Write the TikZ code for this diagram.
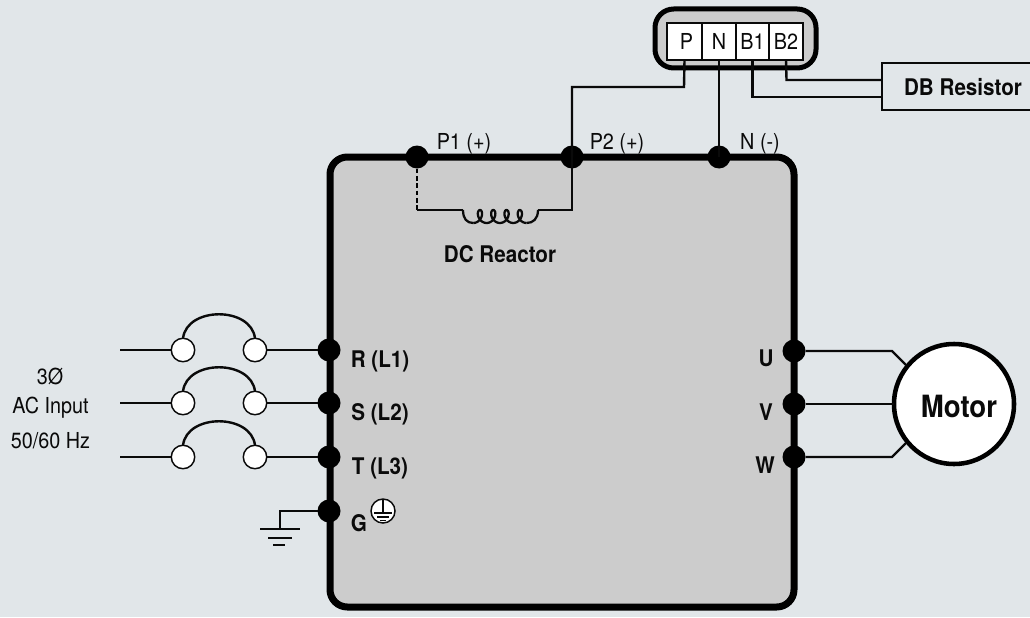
\documentclass[tikz,border=0pt]{standalone}
\usepackage{fontspec}
\setmainfont{TeX Gyre Heros}[FakeStretch=0.9]
\definecolor{bgc}{RGB}{225,230,233}
\definecolor{boxc}{RGB}{204,204,204}
\definecolor{inkc}{RGB}{10,10,10}
\newcommand{\fsz}[1]{\fontsize{#1}{#1}\selectfont}
\tikzset{
  wire/.style={draw=inkc,line width=1.8pt,line join=miter},
  dotn/.style={circle,fill=black,draw=none,inner sep=0pt,outer sep=0pt,minimum size=17.25pt},
  switchn/.style={circle,fill=white,draw=inkc,line width=1.1pt,inner sep=0pt,outer sep=0pt,minimum size=17.6pt},
  lab/.style={inner sep=0pt,outer sep=0pt,text=inkc,font=\fsz{16.5}},
  blab/.style={inner sep=0pt,outer sep=0pt,text=inkc,font=\fsz{17.2}\bfseries},
  cell/.style={rectangle,fill=white,draw=inkc,line width=1.4pt,inner sep=0pt,outer sep=0pt,minimum height=27.75pt,text=inkc,font=\fsz{16.5}},
}
\begin{document}
\begin{tikzpicture}[x=0.75pt,y=-0.75pt]
\fill[bgc] (0,0) rectangle (1030,617);
\useasboundingbox (0,0) rectangle (1030,617);
% main box
\draw[fill=boxc,draw=black,line width=5.25pt,rounded corners=13pt] (330,157) rectangle (794,607);
% terminal block
\draw[fill=boxc,draw=black,line width=3.75pt,rounded corners=14pt] (655,9) rectangle (816,68);
\node[cell,minimum width=26.25pt] (cP) at (684.5,41.5) {\hspace*{3pt}P};
\node[cell,minimum width=25.5pt] (cN) at (719,41.5) {N};
\node[cell,minimum width=24.75pt] (cB1) at (752.5,41.5) {B1};
\node[cell,minimum width=25.5pt] (cB2) at (786,41.5) {B2};
% dots
\node[dotn] (P1) at (417,157) {};
\node[dotn] (P2) at (572,157) {};
\node[dotn] (Nn) at (719,157) {};
\node[dotn] (R) at (329,350) {};
\node[dotn] (S) at (329,403) {};
\node[dotn] (T) at (329,457) {};
\node[dotn] (G) at (329,511) {};
\node[dotn] (U) at (794,351) {};
\node[dotn] (V) at (794,404) {};
\node[dotn] (W) at (794,457) {};
% switches
\foreach \n/\y in {R/350,S/403,T/457}{
  \coordinate (in\n) at (120,\y);
  \node[switchn] (a\n) at (183,\y) {};
  \node[switchn] (b\n) at (255,\y) {};
  \draw[wire] (in\n) -- (a\n);
  \draw[wire] (b\n) -- (\n);
  \draw[wire] (a\n.north) .. controls +(4,-32) and +(-4,-32) .. (b\n.north);
}
% connector wires
\coordinate (pa) at (684,87);
\coordinate (pb) at (572,87);
\draw[wire] (cP.south) -- (pa) -- (pb) -- (P2.center);
\draw[wire] (cN.south) -- (Nn.center);
% DB resistor
\coordinate (dbnw) at (882,63);
\coordinate (dbsw) at (882,110);
\coordinate (dbne) at (1032,63);
\coordinate (dbse) at (1032,110);
\draw[draw=inkc,line width=1.5pt] (dbne) -- (dbnw) -- (dbsw) -- (dbse);
\node[blab] (dbt) at (963,87) {DB Resistor};
\coordinate (w1) at (882,97);
\coordinate (w2) at (882,80);
\draw[wire] (cB1.south) -- (752.5,97) -- (w1);
\draw[wire] (cB2.south) -- (786.5,80) -- (w2);
% reactor
\coordinate (rc) at (417,210);
\coordinate (rl) at (463,210);
\coordinate (rr) at (538,210);
\coordinate (re) at (572,210);
\draw[draw=black,line width=2.2pt,dash pattern=on 3.5pt off 2pt] (P1.south) -- (rc);
\draw[wire] (rc) -- (rl);
\draw[wire,line width=1.7pt] (rl) .. controls (463,219) and (467,223) .. (473.3,223);
\draw[wire,line width=1.7pt] plot[smooth,samples=97,domain=0:1440] ({473.3+0.03694*\x+5*sin(\x)},{216.5+6.5*cos(\x)});
\draw[wire,line width=1.7pt] (526.5,223) .. controls (533,223) and (538,219) .. (rr);
\draw[wire] (rr) -- (re) -- (P2.center);
% ground
\coordinate (g1) at (280,511);
\coordinate (g2) at (280,529);
\draw[wire] (G) -- (g1) -- (g2);
\draw[wire] (260,529) -- (300,529);
\draw[wire] (268,538) -- (292,538);
\draw[wire] (273,545) -- (285,545);
% earth symbol
\node[circle,fill=white,draw=inkc,line width=1.1pt,inner sep=0pt,outer sep=0pt,minimum size=18pt] (es) at (383,511) {};
\draw[draw=inkc,line width=0.9pt] (es.north) -- (383,513);
\draw[draw=inkc,line width=0.9pt] (374,513) -- (392,513);
\draw[draw=inkc,line width=0.9pt] (377,517) -- (389,517);
\draw[draw=inkc,line width=0.9pt] (380,520.5) -- (386,520.5);
% motor
\node[circle,fill=white,draw=black,line width=3.4pt,inner sep=0pt,outer sep=0pt,minimum size=90pt] (M) at (954,404) {};
\coordinate (uk) at (892,351);
\coordinate (um) at (906,365);
\coordinate (wk) at (892,457);
\coordinate (wm) at (906,443);
\draw[wire] (U) -- (uk) -- (um);
\draw[wire] (V) -- (M.west);
\draw[wire] (W) -- (wk) -- (wm);
\node[blab,font=\fsz{23}\bfseries] (mt) at (959,406) {Motor};
% labels
\node[lab] (l1) at (464,144) {P1 (+)};
\node[lab] (l2) at (617,144) {P2 (+)};
\node[lab] (l3) at (760,144) {N (-)};
\node[blab] (l4) at (500,254) {DC Reactor};
\node[blab] (l5) at (380,361) {R (L1)};
\node[blab] (l6) at (380,414) {S (L2)};
\node[blab] (l7) at (380,468) {T (L3)};
\node[blab] (l8) at (359,523) {G};
\node[blab] (l9) at (766,358) {U};
\node[blab] (l10) at (766,412) {V};
\node[blab] (l11) at (765,465) {W};
\node[lab] (t1) at (50,376) {3Ø};
\node[lab] (t2) at (50.5,408) {AC Input};
\node[lab] (t3) at (50.5,441) {50/60 Hz};
\end{tikzpicture}
\end{document}
